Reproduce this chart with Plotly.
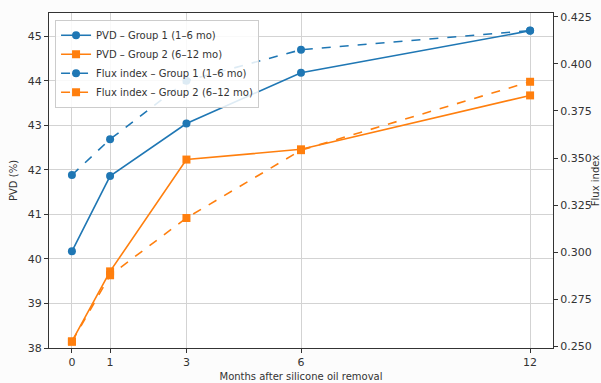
import plotly.graph_objects as go

months = [0, 1, 3, 6, 12]
month_labels = ["0", "1", "3", "6", "12"]
pvd_g1 = [40.17, 41.86, 43.04, 44.18, 45.12]
pvd_g2 = [38.15, 39.72, 42.23, 42.46, 43.67]
flux_g1 = [0.341, 0.360, 0.391, 0.4075, 0.4177]
flux_g2 = [0.2525, 0.2878, 0.3182, 0.3542, 0.3905]

names = [
    "PVD – Group 1 (1–6 mo)",
    "PVD – Group 2 (6–12 mo)",
    "Flux index – Group 1 (1–6 mo)",
    "Flux index – Group 2 (6–12 mo)",
]

blue = "#1f77b4"
orange = "#ff7f0e"
font = "DejaVu Sans"

fig = go.Figure()
fig.add_trace(go.Scatter(x=months, y=pvd_g1, name=names[0], mode="lines+markers",
                         line=dict(color=blue, width=1.6),
                         marker=dict(symbol="circle", size=8, color=blue)))
fig.add_trace(go.Scatter(x=months, y=pvd_g2, name=names[1], mode="lines+markers",
                         line=dict(color=orange, width=1.6),
                         marker=dict(symbol="square", size=8, color=orange)))
fig.add_trace(go.Scatter(x=months, y=flux_g1, name=names[2], mode="lines+markers",
                         yaxis="y2",
                         line=dict(color=blue, width=1.6, dash="dash"),
                         marker=dict(symbol="circle", size=8, color=blue)))
fig.add_trace(go.Scatter(x=months, y=flux_g2, name=names[3], mode="lines+markers",
                         yaxis="y2",
                         line=dict(color=orange, width=1.6, dash="dash"),
                         marker=dict(symbol="square", size=8, color=orange)))

axis_common = dict(
    showline=True, linecolor="#333333", linewidth=1,
    ticks="outside", ticklen=4, tickcolor="#333333",
    tickfont=dict(family=font, size=11, color="#333333"),
    zeroline=False, automargin=False,
)

fig.update_layout(
    width=601, height=383,
    margin=dict(l=49, r=48, t=13, b=35),
    paper_bgcolor="#fcfcfc",
    plot_bgcolor="white",
    font=dict(family=font, size=10, color="#333333"),
    showlegend=True,
    legend=dict(x=0.012, y=0.98, xanchor="left", yanchor="top",
                bgcolor="rgba(255,255,255,0.85)", bordercolor="#cccccc", borderwidth=1,
                font=dict(family=font, size=10, color="#333333"),
                tracegroupgap=0, itemwidth=30),
    xaxis=dict(
        range=[-0.6, 12.6], tickvals=months, ticktext=month_labels,
        showgrid=True, gridcolor="#d3d3d3", gridwidth=1, mirror=True,
        title=dict(text="Months after silicone oil removal",
                   font=dict(family=font, size=10, color="#333333"), standoff=4),
        **axis_common,
    ),
    yaxis=dict(
        range=[38, 45.52], dtick=1, tick0=38,
        showgrid=True, gridcolor="#d3d3d3", gridwidth=1,
        title=dict(text="PVD (%)", font=dict(family=font, size=10, color="#333333"), standoff=8),
        **axis_common,
    ),
    yaxis2=dict(
        range=[0.2492, 0.427], dtick=0.025, tick0=0.25, tickformat=".3f",
        overlaying="y", side="right", showgrid=False,
        title=dict(text="Flux index", font=dict(family=font, size=10, color="#333333"), standoff=8),
        **axis_common,
    ),
)

fig.write_html("out.html", config={"displayModeBar": False},
               post_script="document.body.style.margin='0px';")
